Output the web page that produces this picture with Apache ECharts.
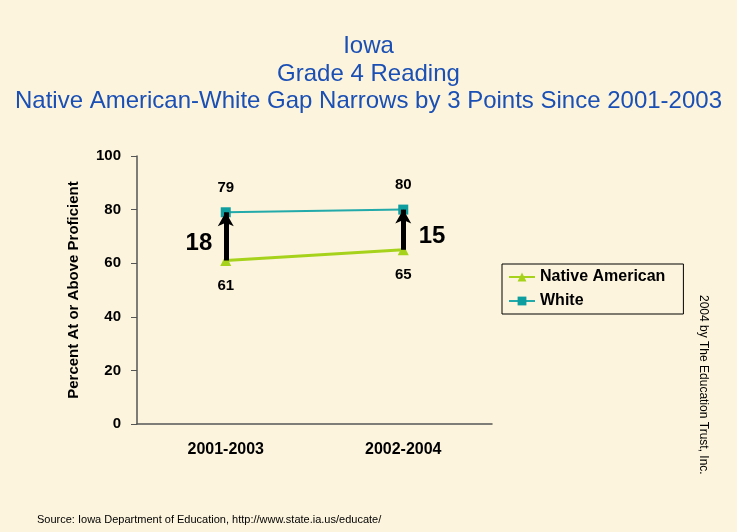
<!DOCTYPE html>
<html><head><meta charset="utf-8">
<script src="https://cdn.jsdelivr.net/npm/echarts@6/dist/echarts.min.js"></script>
<style>html,body{margin:0;padding:0;background:#fcf4dc;}#c{width:737px;height:532px;}</style>
</head><body><div id="c"></div>
<script>
const categories = ['2001-2003', '2002-2004'];
const nativeAmerican = [61, 65];
const white = [79, 80];
const gapLabels = ['18', '15'];
const yTicks = [0, 20, 40, 60, 80, 100];

const chart = echarts.init(document.getElementById('c'));
const F = 'Liberation Sans, Arial, sans-serif';
const arrowData = categories.map((c, i) => [
  {coord: [c, nativeAmerican[i]]},
  {coord: [c, white[i]]}
]);
chart.setOption({
  backgroundColor: '#fcf4dc',
  animation: false,
  title: {
    text: 'Iowa\nGrade 4 Reading\nNative American-White Gap Narrows by 3 Points Since 2001-2003',
    left: 'center', top: 28,
    textStyle: {color: '#1a4fb5', fontFamily: F, fontWeight: 'normal', fontSize: 24, lineHeight: 27.5}
  },
  grid: {left: 137, top: 156, width: 355, height: 268},
  legend: {
    orient: 'vertical', left: 502, top: 264,
    padding: [5, 18, 5, 6], itemGap: 8,
    borderColor: '#000', borderWidth: 1,
    itemWidth: 26, itemHeight: 11,
    textStyle: {fontFamily: F, fontWeight: 'bold', fontSize: 16, color: '#000'},
    data: ['Native American', 'White']
  },
  xAxis: {
    type: 'category', data: categories,
    axisLine: {lineStyle: {color: '#555', width: 1.5}},
    axisTick: {lineStyle: {color: '#555'}, length: 4},
    axisLabel: {fontFamily: F, fontWeight: 'bold', fontSize: 16, color: '#000', margin: 18}
  },
  yAxis: {
    type: 'value', min: 0, max: 100, interval: 20,
    name: 'Percent At or Above Proficient', nameLocation: 'middle', nameGap: 56,
    nameTextStyle: {fontFamily: F, fontWeight: 'bold', fontSize: 15, color: '#000'},
    axisLine: {show: true, lineStyle: {color: '#555', width: 1.5}},
    axisTick: {show: true, inside: false, length: 6, lineStyle: {color: '#555'}},
    splitLine: {show: false},
    axisLabel: {fontFamily: F, fontWeight: 'bold', fontSize: 15, color: '#000', margin: 16,
      formatter: v => yTicks.includes(v) ? String(v) : ''}
  },
  series: [
    {
      name: 'Native American', type: 'line', data: nativeAmerican,
      symbol: 'triangle', symbolSize: 11,
      lineStyle: {color: '#a6d21c', width: 3},
      itemStyle: {color: '#a6d21c'},
      label: {show: true, position: 'bottom', distance: 12, fontFamily: F, fontWeight: 'bold', fontSize: 15, color: '#000'},
      markLine: {
        silent: true, symbol: ['none', 'arrow'], symbolSize: [12, 14],
        lineStyle: {color: '#000', width: 5, type: 'solid', opacity: 1},
        label: {show: false},
        emphasis: {disabled: true},
        data: arrowData
      },
      z: 2
    },
    {
      name: 'White', type: 'line', data: white,
      symbol: 'rect', symbolSize: 10,
      lineStyle: {color: '#22a9aa', width: 2},
      itemStyle: {color: '#0e9ea0'},
      label: {show: true, position: 'top', distance: 12, fontFamily: F, fontWeight: 'bold', fontSize: 15, color: '#000'},
      z: 4
    },
    {
      name: 'gap', type: 'scatter', symbolSize: 1,
      itemStyle: {opacity: 0},
      data: categories.map((c, i) => ({
        value: [c, (nativeAmerican[i] + white[i]) / 2],
        label: {show: true, formatter: gapLabels[i], position: i === 0 ? 'left' : 'right', distance: i === 0 ? 13 : 15,
          offset: [0, 7], opacity: 1,
          fontFamily: F, fontWeight: 'bold', fontSize: 24, color: '#000'}
      })),
      tooltip: {show: false}
    }
  ],
  graphic: [
    {type: 'text', left: 37, top: 514, style: {text: 'Source: Iowa Department of Education, http://www.state.ia.us/educate/', font: '11px Liberation Sans, Arial, sans-serif', fill: '#000'}},
    {type: 'text', x: 709, y: 295, rotation: -Math.PI / 2, style: {text: '2004 by The Education Trust, Inc.', font: '12px Liberation Sans, Arial, sans-serif', fill: '#000'}}
  ]
});
</script></body></html>
